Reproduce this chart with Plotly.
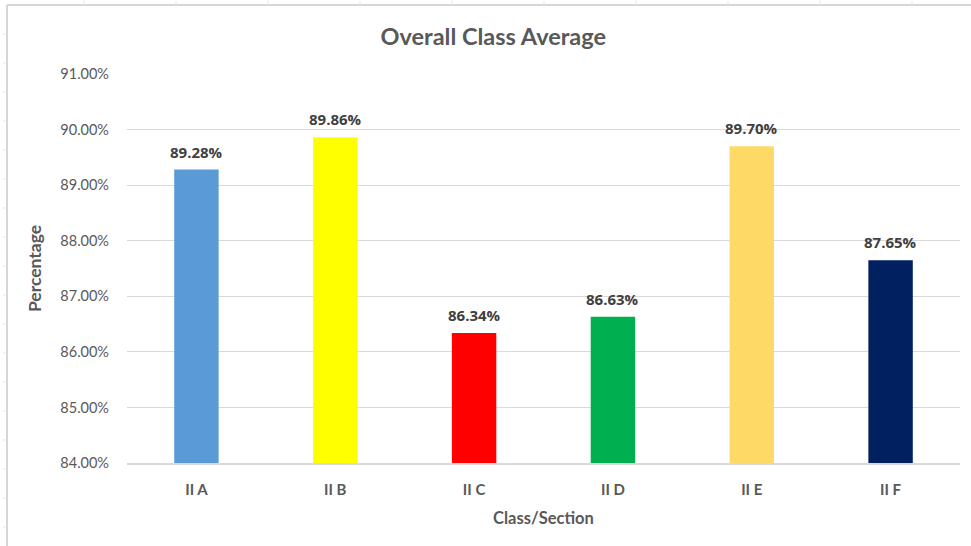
import plotly.graph_objects as go

categories = ["II A", "II B", "II C", "II D", "II E", "II F"]
values = [0.8928, 0.8986, 0.8634, 0.8663, 0.8970, 0.8765]
colors = ["#5B9BD5", "#FFFF00", "#FF0000", "#00B050", "#FFD966", "#002060"]
y_ticks = [0.84, 0.85, 0.86, 0.87, 0.88, 0.89, 0.90, 0.91]

FONT = "Lato, 'Open Sans', sans-serif"
W, H = 971, 546
ML, MR, MT, MB = 127, 11, 74, 83
PW, PH = W - ML - MR, H - MT - MB

fig = go.Figure(go.Bar(
    x=categories, y=values,
    marker=dict(color=colors, line=dict(width=0)),
    cliponaxis=False, hoverinfo="x+y",
))

for c, v in zip(categories, values):
    fig.add_annotation(x=c, y=v, text=f"<b>{v:.2%}</b>", showarrow=False,
                       yanchor="bottom", yshift=6,
                       font=dict(family="'Open Sans', sans-serif", size=15, color="#404040"))

fig.update_layout(
    width=W, height=H,
    margin=dict(l=ML, r=MR, t=MT, b=MB),
    paper_bgcolor="white", plot_bgcolor="white",
    bargap=0.68,
    showlegend=False,
    title=dict(text="<b>Overall Class Average</b>", x=0.508, xanchor="center",
               y=1 - 37 / H, yanchor="middle",
               font=dict(family=FONT, size=23.5, color="#595959")),
    xaxis=dict(
        showgrid=False, showline=True, linecolor="#D9D9D9", linewidth=1.5,
        tickfont=dict(family=FONT, size=15, color="#595959", weight="bold"),
        ticks="", ticklabelstandoff=12,
        title=dict(text="<b>Class/Section</b>", standoff=16,
                   font=dict(family=FONT, size=16.5, color="#595959")),
    ),
    yaxis=dict(
        range=[0.84, 0.91], tickvals=y_ticks, tickformat=".2%",
        showgrid=True, gridcolor="#D9D9D9", gridwidth=1,
        zeroline=False, showline=False, ticks="",
        ticklabelstandoff=17,
        tickfont=dict(family=FONT, size=14.5, color="#595959"),
        title=dict(text="<b>Percentage</b>", standoff=14,
                   font=dict(family=FONT, size=17.5, color="#595959")),
    ),
)

# spreadsheet-style frame lines around the chart object
def px_x(x):
    return (x - ML) / PW

def px_y(y):
    return (H - MB - y) / PH

frame = dict(color="#D6D6D6", width=2)
fig.add_shape(type="line", xref="paper", yref="paper",
              x0=px_x(7), x1=px_x(W), y0=px_y(5), y1=px_y(5), line=frame)
fig.add_shape(type="line", xref="paper", yref="paper",
              x0=px_x(7), x1=px_x(7), y0=px_y(5), y1=px_y(H), line=frame)
for tx in range(84, W, 92):
    fig.add_shape(type="line", xref="paper", yref="paper",
                  x0=px_x(tx), x1=px_x(tx), y0=px_y(1), y1=px_y(5),
                  line=dict(color="#E3E3E3", width=1))
for ty in range(34, H, 29):
    fig.add_shape(type="line", xref="paper", yref="paper",
                  x0=px_x(3), x1=px_x(7), y0=px_y(ty), y1=px_y(ty),
                  line=dict(color="#E3E3E3", width=1))

fig.write_html("out.html", config={"displayModeBar": False},
               post_script="document.body.style.margin='0';document.body.style.overflow='hidden';")
